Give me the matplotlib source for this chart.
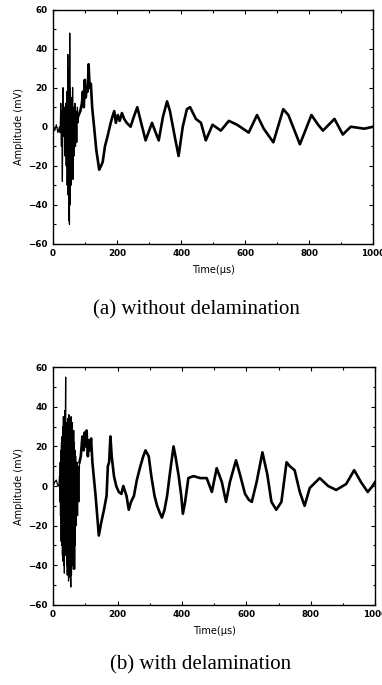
import matplotlib
matplotlib.use('Agg')
import matplotlib.pyplot as plt
from matplotlib.ticker import MultipleLocator

# (a) without delamination -- burst region read point by point
a_burst_t = [0, 5, 10, 15, 20, 22, 24, 26, 27, 29, 31, 33, 35, 37, 39, 41, 43, 44, 46, 47, 48,
             49, 50, 51, 52, 53, 54, 56, 57, 59, 61, 62, 64, 66, 68, 70, 72, 74, 76, 78, 80]
a_burst_v = [0, -2, 1, -3, 0, -3, 12, -10, 8, -28, 20, -5, 10, -15, 12, -20, 18, -30, 37, -35, 30,
             -48, 20, -50, 48, -40, 20, -30, 15, -25, 20, -27, 10, -15, 12, -10, 8, -8, 10, 2, 6]
# (a) slower part of the trace
a_t = [80, 85, 90, 93, 96, 99, 102, 105, 108, 111, 114, 118, 122, 128, 135, 144, 150, 155, 162,
       170, 180, 185, 191, 196, 202, 208, 215, 222, 230, 242, 252, 263, 275, 289, 300, 309, 318,
       330, 343, 356, 365, 380, 392, 405, 418, 428, 446, 462, 477, 498, 524, 549, 575, 611, 637,
       658, 688, 719, 735, 771, 807, 828, 843, 879, 905, 930, 972, 1000]
a_v = [6, 8, 12, 18, 10, 24, 15, 20, 18, 32, 20, 22, 10, 0, -12, -22, -20, -18, -10,
       -5, 2, 5, 8, 2, 6, 3, 7, 4, 2, 0, 5, 10, 2, -7, -2, 2, -2,
       -7, 5, 13, 8, -5, -15, 0, 9, 10, 4, 2, -7, 1, -2, 3, 1, -3, 6,
       -1, -8, 9, 6, -9, 6, 1, -2, 4, -4, 0, -1, 0]

# (b) with delamination -- burst region
b_burst_t = [0, 5, 10, 15, 18, 20, 21, 22, 23, 24, 25, 26, 27, 28, 29, 30, 31, 32, 33, 34, 35,
             36, 37, 38, 39, 40, 41, 42, 43, 44, 45, 46, 47, 48, 49, 50, 51, 52, 53, 54, 55,
             56, 57, 58, 59, 60, 61, 62, 63, 64, 65, 66, 67, 68, 69, 70, 72, 74, 76, 78, 80, 82]
b_burst_v = [0, 2, 3, 0, 0, 5, -8, 12, -15, 18, -28, 22, -30, 25, -35, 30, -38, 35, -40, 28, -44,
             38, -30, 30, 55, -35, 32, -40, 30, -45, 34, -38, 30, -48, 36, -42, 33, -46, 30, -40, -51,
             35, -45, 28, -40, 32, -38, 25, -42, 28, -35, 22, -42, 18, -30, 15, -20, 12, -15, 10, -8, 12]
# (b) slower part of the trace
b_t = [82, 86, 91, 95, 98, 101, 104, 108, 111, 114, 118, 122, 132, 142, 150, 158, 166, 170, 174,
       178, 182, 189, 196, 204, 212, 218, 222, 228, 235, 242, 251, 260, 271, 280, 287, 297, 305,
       315, 323, 330, 338, 346, 354, 364, 374, 380, 390, 398, 403, 410, 420, 436, 457, 477, 493,
       508, 524, 537, 549, 568, 580, 596, 608, 617, 632, 650, 665, 678, 693, 709, 725, 735, 750,
       766, 781, 797, 828, 854, 879, 910, 935, 956, 977, 992, 1000]
b_v = [12, 15, 25, 18, 27, 20, 28, 15, 23, 18, 24, 12, -5, -25, -18, -12, -5, 10, 12,
       25, 15, 5, 0, -3, -4, 0, -2, -5, -12, -8, -5, 3, 10, 15, 18, 15, 5,
       -5, -10, -13, -16, -12, -5, 8, 20, 15, 5, -5, -14, -8, 4, 5, 4, 4, -3,
       9, 2, -8, 2, 13, 6, -4, -7, -8, 2, 17, 6, -8, -12, -8, 12, 10, 8,
       -3, -10, -1, 4, 0, -2, 1, 8, 2, -3, 0, 2]

x_ticks = [0, 200, 400, 600, 800, 1000]
y_ticks = [-60, -40, -20, 0, 20, 40, 60]
captions = ['(a) without delamination', '(b) with delamination']

fig = plt.figure(figsize=(3.82, 6.85), dpi=100)
ax_a = fig.add_axes([0.139, 0.644, 0.838, 0.342])
ax_b = fig.add_axes([0.139, 0.117, 0.843, 0.347])

# caption centre (x, y) in figure fractions
panels = [(ax_a, a_burst_t, a_burst_v, a_t, a_v, (0.513, 0.547)),
          (ax_b, b_burst_t, b_burst_v, b_t, b_v, (0.526, 0.029))]

for i, (ax, bt, bv, t, v, cap) in enumerate(panels):
    ax.plot(bt, bv, color='black', lw=0.9)
    ax.plot(t, v, color='black', lw=1.9, solid_joinstyle='round')
    ax.set_xlim(0, 1000)
    ax.set_ylim(-60, 60)
    ax.set_xticks(x_ticks)
    ax.set_yticks(y_ticks)
    ax.xaxis.set_minor_locator(MultipleLocator(100))
    ax.yaxis.set_minor_locator(MultipleLocator(10))
    ax.tick_params(which='both', direction='in', top=True, right=True, labelsize=6.3, width=0.8)
    ax.tick_params(which='major', length=3, pad=4)
    ax.tick_params(which='minor', length=1.8)
    for lbl in ax.get_xticklabels() + ax.get_yticklabels():
        lbl.set_fontweight('bold')
    for s in ax.spines.values():
        s.set_linewidth(1.0)
    ax.set_xlabel('Time(\u00b5s)', fontsize=7, labelpad=5)
    ax.set_ylabel('Amplitude (mV)', fontsize=7, labelpad=3)
    fig.text(cap[0], cap[1], captions[i], ha='center', va='center',
             family='Liberation Serif', fontsize=15)

fig.savefig('out.png', dpi=100)
